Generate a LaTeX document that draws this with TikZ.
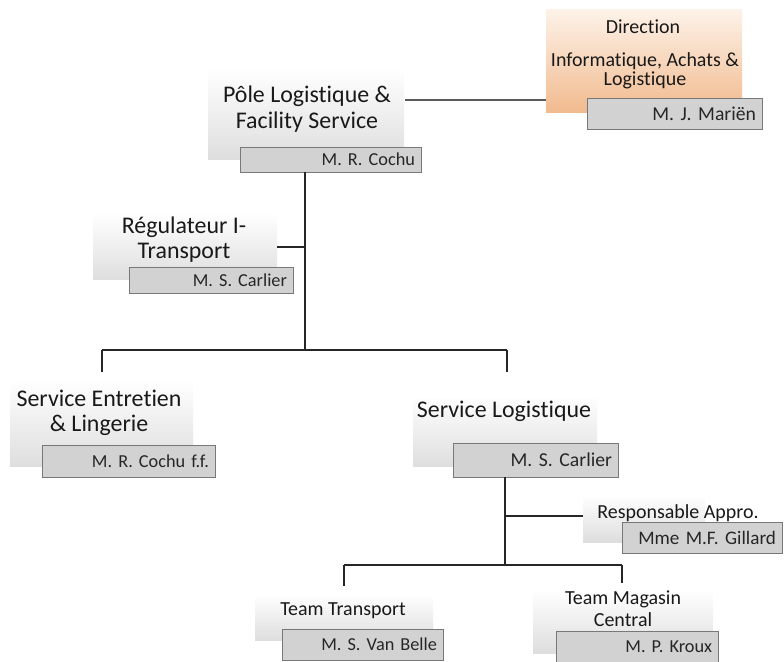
\documentclass[tikz,border=0pt]{standalone}
\usepackage{fontspec}
\setmainfont{Carlito}[Ligatures=NoCommon]
\usetikzlibrary{positioning, calc, shadows}

\definecolor{nameGray}{RGB}{210,210,210}
\definecolor{edgeGray}{RGB}{120,120,120}
\definecolor{dirTop}{RGB}{253,242,232}
\definecolor{dirBottom}{RGB}{241,186,142}

\tikzset{
  panel/.style={top color=white, bottom color=black!13, draw=none},
  dirpanel/.style={top color=dirTop, bottom color=dirBottom, draw=none},
  namebox/.style={fill=nameGray, draw=edgeGray, line width=0.6pt, inner xsep=1.5mm, inner ysep=0pt,
    align=right, text width=#1, font=\fontsize{13}{14}\selectfont, text=black!85,
    drop shadow={shadow xshift=0.7pt, shadow yshift=-0.7pt, opacity=0.25}},
  title/.style={anchor=base, align=center, inner sep=0pt, font=\fontsize{17}{18.5}\selectfont, text=black!90},
  subtitle/.style={anchor=base, align=center, inner sep=0pt, font=\fontsize{14.2}{13.7}\selectfont, text=black!90},
  link/.style={draw=black!85, line width=1.3pt},
}

\begin{document}
\begin{tikzpicture}[x=0.25mm, y=-0.25mm]
\useasboundingbox (0,0) rectangle (784,662);

% Direction
\shade[dirpanel] (546,10) rectangle (742,113);
\node[subtitle] (dirTitle) at (643,34) {Direction};
\node[subtitle] (dirDept) at (645,86) {Informatique, Achats \&\\Logistique};
\node[namebox=40.75mm, minimum height=7.75mm, font=\fontsize{14}{15}\selectfont] (dirName) at (674.5,113.5) {M. J. Mariën};

% Pole
\shade[panel] (208,68) rectangle (404,160);
\node[title, font=\fontsize{17}{18.5}\selectfont] (pole) at (307,129) {Pôle Logistique \&\\Facility Service};
\node[namebox=42.25mm, minimum height=6.25mm] (poleName) at (330.5,159.5) {M. R. Cochu};

% Regulateur
\shade[panel] (93,213) rectangle (277,280);
\node[title, font=\fontsize{17}{17.8}\selectfont] (reg) at (184,259) {Régulateur I-\\Transport};
\node[namebox=38mm, minimum height=6.5mm] (regName) at (211,280) {M. S. Carlier};

% Service Entretien
\shade[panel] (10,380) rectangle (193,467);
\node[title, font=\fontsize{17}{17.8}\selectfont] (ent) at (99,432) {Service Entretien\\\& Lingerie};
\node[namebox=40.25mm, minimum height=8mm] (entName) at (128.5,461) {M. R. Cochu f.f.};

% Service Logistique
\shade[panel] (413,395) rectangle (597,467);
\node[title] (log) at (504,418) {Service Logistique};
\node[namebox=38.25mm, minimum height=8.5mm, font=\fontsize{14}{15}\selectfont] (logName) at (535.5,460) {M. S. Carlier};

% Responsable Appro
\shade[panel] (583,495) rectangle (705,542);
\node[subtitle] (appro) at (678,519) {Responsable Appro.};
\node[namebox=37mm, minimum height=7.75mm, font=\fontsize{13.6}{15}\selectfont] (approName) at (702,537.5) {Mme M.F. Gillard};

% Teams
\shade[panel] (255,595) rectangle (433,640);
\node[subtitle] (trans) at (343,615) {Team Transport};
\node[namebox=37.25mm, minimum height=7.75mm] (transName) at (362.5,644.5) {M. S. Van Belle};

\shade[panel] (533,590) rectangle (713,653);
\node[subtitle, font=\fontsize{14.2}{15}\selectfont] (mag) at (623,626) {Team Magasin\\Central};
\node[namebox=37.5mm, minimum height=8mm] (magName) at (637,647) {M. P. Kroux};

% liaisons
\coordinate (poleFoot) at (305,172);
\coordinate (regJoin) at (305,247);
\coordinate (hubA) at (305,350);
\coordinate (entDrop) at (102,350);
\coordinate (logDrop) at (507,350);
\coordinate (logFoot) at (505,477);
\coordinate (approJoin) at (505,516);
\coordinate (hubB) at (505,565);
\coordinate (transDrop) at (344,565);
\coordinate (magDrop) at (622,565);

\draw[draw=black!65, line width=1.1pt] (405,100) -- (546,100);
\draw[link] (poleFoot) -- (hubA);
\draw[link] (regJoin) -- (277,247);
\draw[link] (entDrop) -- (logDrop);
\draw[link] (entDrop) -- ++(0,22);
\draw[link] (logDrop) -- ++(0,22);
\draw[link] (logFoot) -- (hubB);
\draw[link] (approJoin) -- (583,516);
\draw[link] (transDrop) -- (magDrop);
\draw[link] (transDrop) -- ++(0,21);
\draw[link] (magDrop) -- ++(0,18);

\end{tikzpicture}
\end{document}
